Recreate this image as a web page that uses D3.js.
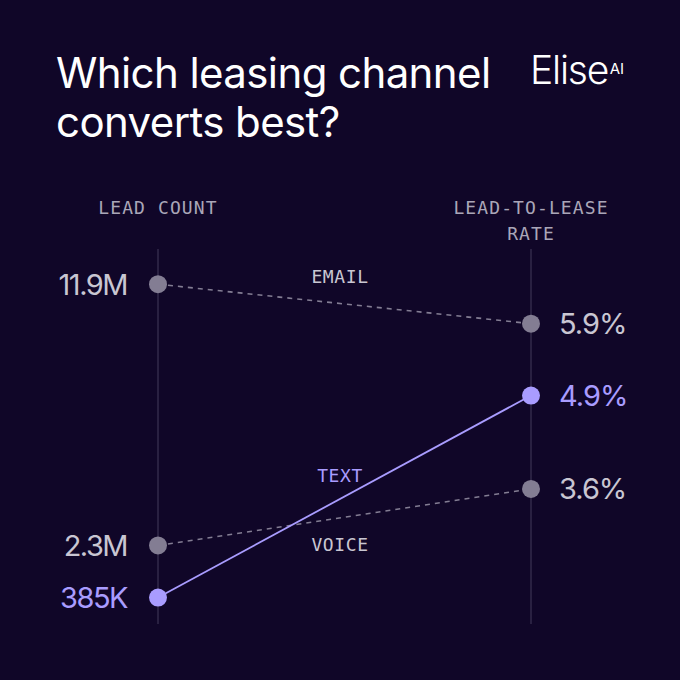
<!DOCTYPE html>
<html><head><meta charset="utf-8">
<script src="https://cdn.jsdelivr.net/npm/d3@7"></script>
<style>html,body{margin:0;padding:0;background:#100628;}svg{display:block}</style>
</head><body>
<script>
const channels = ["EMAIL", "TEXT", "VOICE"];
const leadCount = [11.9, 0.385, 2.3];          // millions
const leadLabels = ["11.9M", "385K", "2.3M"];
const leaseRate = [5.9, 4.9, 3.6];             // percent
const rateLabels = ["5.9%", "4.9%", "3.6%"];
const highlight = [false, true, false];
const titleLines = ["Which leasing channel", "converts best?"];

const W = 680, H = 680;
const bg = "#100628", gray = "#837d93", grayText = "#c9c6d2", purple = "#a99cff", axisCol = "#3b3352";
const mono = "'DejaVu Sans Mono', 'Liberation Mono', monospace";
const sans = "Inter, 'Noto Sans', sans-serif";

const svg = d3.select("body").append("svg").attr("width", W).attr("height", H);
svg.append("rect").attr("width", W).attr("height", H).attr("fill", bg);

const xL = 158, xR = 531;
const yLeft = d3.scaleLinear().domain([0, 12]).range([608, 281.5]);
const yRight = d3.scaleLinear().domain([3, 6]).range([532, 316.5]);

// title
svg.append("g").selectAll("text").data(titleLines).join("text")
  .attr("x", 56).attr("y", (d, i) => 88 + i * 49)
  .attr("fill", "#ffffff").attr("font-family", sans).attr("font-size", 42)
  .attr("letter-spacing", -0.6).text(d => d);

// logo
const logo = svg.append("text").attr("x", 530).attr("y", 84).attr("fill", "#ffffff")
  .attr("font-family", sans).attr("font-weight", 300).attr("font-size", 39).attr("letter-spacing", -1.2);
logo.append("tspan").text("Elise");
logo.append("tspan").attr("font-size", 15).attr("font-weight", 400).attr("dy", -10).attr("dx", 1.5).attr("letter-spacing", 0).text("AI");

// axis headers
const hdr = svg.append("g").attr("font-family", mono).attr("font-size", 18).attr("letter-spacing", 1.1)
  .attr("fill", "#aaa6b8").attr("text-anchor", "middle");
hdr.append("text").attr("x", xL).attr("y", 214).text("LEAD COUNT");
hdr.append("text").attr("x", xR).attr("y", 214).text("LEAD-TO-LEASE");
hdr.append("text").attr("x", xR).attr("y", 240).text("RATE");

// axis lines
svg.append("g").selectAll("line").data([xL, xR]).join("line")
  .attr("x1", d => d).attr("x2", d => d).attr("y1", 249).attr("y2", 624)
  .attr("stroke", axisCol).attr("stroke-width", 1.2);

const idx = d3.range(channels.length).sort((a, b) => highlight[a] - highlight[b]);

// slope lines
svg.append("g").selectAll("line").data(idx).join("line")
  .attr("x1", xL).attr("y1", i => yLeft(leadCount[i]))
  .attr("x2", xR).attr("y2", i => yRight(leaseRate[i]))
  .attr("stroke", i => highlight[i] ? purple : gray)
  .attr("stroke-width", i => highlight[i] ? 1.8 : 1.6)
  .attr("stroke-dasharray", i => highlight[i] ? null : "5,5");

// dots
const dots = svg.append("g");
dots.selectAll("circle.l").data(idx).join("circle").attr("class", "l")
  .attr("cx", xL).attr("cy", i => yLeft(leadCount[i])).attr("r", 9)
  .attr("fill", i => highlight[i] ? purple : gray);
dots.selectAll("circle.r").data(idx).join("circle").attr("class", "r")
  .attr("cx", xR).attr("cy", i => yRight(leaseRate[i])).attr("r", 9)
  .attr("fill", i => highlight[i] ? purple : gray);

// value labels
svg.append("g").selectAll("text").data(idx).join("text")
  .attr("x", 127).attr("y", i => yLeft(leadCount[i])).attr("dy", "0.36em")
  .attr("text-anchor", "end").attr("font-family", sans).attr("font-size", 29).attr("letter-spacing", -1.5)
  .attr("fill", i => highlight[i] ? purple : grayText).text(i => leadLabels[i]);
svg.append("g").selectAll("text").data(idx).join("text")
  .attr("x", 559).attr("y", i => yRight(leaseRate[i])).attr("dy", "0.36em")
  .attr("font-family", sans).attr("font-size", 29).attr("letter-spacing", -1)
  .attr("fill", i => highlight[i] ? purple : grayText).text(i => rateLabels[i]);

// channel labels
const labelY = { EMAIL: 283, TEXT: 482, VOICE: 551 };
svg.append("g").selectAll("text").data(idx).join("text")
  .attr("x", 340).attr("y", i => labelY[channels[i]]).attr("text-anchor", "middle")
  .attr("font-family", mono).attr("font-size", 18).attr("letter-spacing", 0.6)
  .attr("fill", i => highlight[i] ? purple : "#c9c6d2").text(i => channels[i]);
</script>
</body></html>
